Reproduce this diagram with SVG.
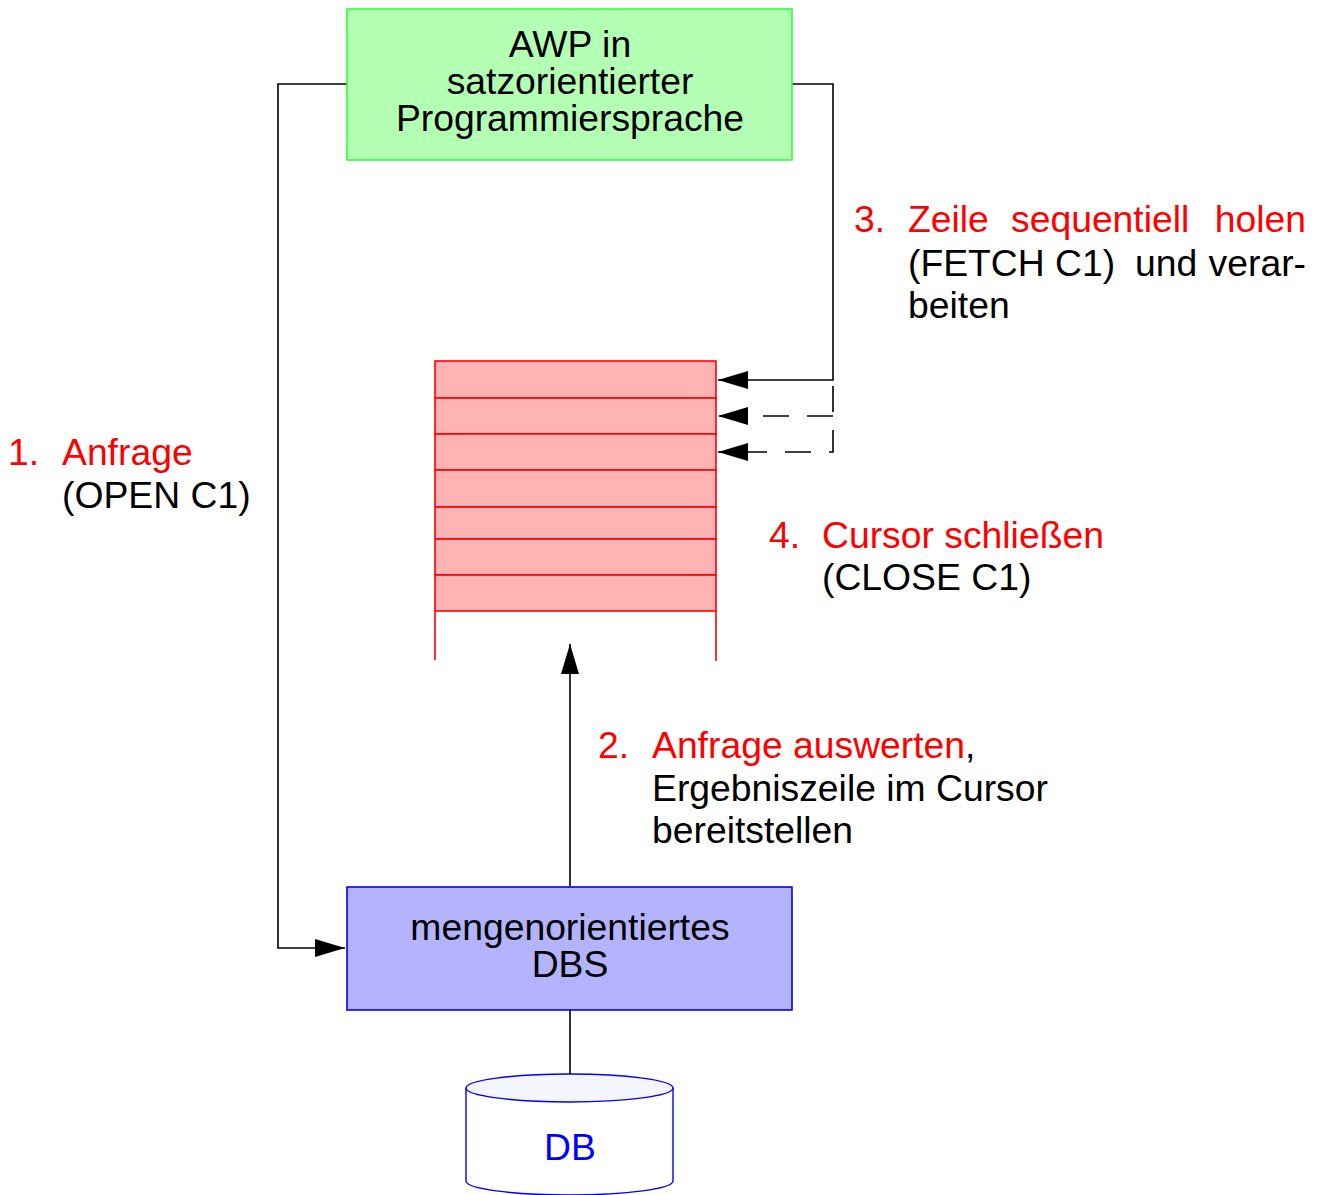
<svg xmlns="http://www.w3.org/2000/svg" width="1320" height="1195" viewBox="0 0 1320 1195">
<defs>
<marker id="ah" markerWidth="32" markerHeight="18" refX="30" refY="9" orient="auto" markerUnits="userSpaceOnUse">
<path d="M0,0 L30,9 L0,18 Z" fill="#000"/>
</marker>
<style>
text{font-family:"Liberation Sans",Arial,Helvetica,sans-serif;font-size:37.3px;fill:#000}
.c{text-anchor:middle}
.r{fill:#ff0000}
.conn{fill:none;stroke:#000;stroke-width:1.6}
.dash{stroke-dasharray:26,18}
.row{fill:#ffb3b3;stroke:#ff0000;stroke-width:1.6}
</style>
</defs>
<rect width="1320" height="1195" fill="#fff"/>

<g id="connectors">
<path class="conn" d="M347,84 H278 V948 H345" marker-end="url(#ah)"/>
<path class="conn" d="M792,84 H833 V380 H718" marker-end="url(#ah)"/>
<path class="conn dash" d="M833,386 V452 H718" marker-end="url(#ah)"/>
<path class="conn dash" d="M833,416 H718" marker-end="url(#ah)"/>
<path class="conn" d="M570,886 V644" marker-end="url(#ah)"/>
<path class="conn" d="M570,1010 V1074"/>
</g>

<g id="awp">
<rect x="347" y="9" width="445" height="151" fill="#b3ffb3" stroke="#33ff33" stroke-width="1.6"/>
<text class="c" x="570" y="57">AWP in</text>
<text class="c" x="570" y="94">satzorientierter</text>
<text class="c" x="570" y="131">Programmiersprache</text>
</g>

<g id="cursor">
<rect class="row" x="435" y="361" width="281" height="37"/>
<rect class="row" x="435" y="398" width="281" height="36"/>
<rect class="row" x="435" y="434" width="281" height="36"/>
<rect class="row" x="435" y="470" width="281" height="37"/>
<rect class="row" x="435" y="507" width="281" height="32"/>
<rect class="row" x="435" y="539" width="281" height="36"/>
<rect class="row" x="435" y="575" width="281" height="36"/>
<path d="M435,611 V660 M716,611 V661" stroke="#ff0000" stroke-width="1.6" fill="none"/>
</g>

<g id="dbs">
<rect x="347" y="887" width="445" height="123" fill="#b3b3ff" stroke="#0000ff" stroke-width="1.6"/>
<text class="c" x="570" y="940">mengenorientiertes</text>
<text class="c" x="570" y="977">DBS</text>
</g>

<g id="db">
<path d="M466,1088 V1181 A103.5,14 0 0 0 673,1181 V1088" fill="#fff" stroke="#0000ff" stroke-width="1.4"/>
<ellipse cx="569.5" cy="1088" rx="103.5" ry="14" fill="#f5f5ff" stroke="#0000ff" stroke-width="1.4"/>
<text class="c" x="570" y="1160" style="fill:#0000ff">DB</text>
</g>

<g id="label1">
<text class="r" x="8" y="465">1.</text>
<text class="r" x="62" y="465">Anfrage</text>
<text x="62" y="508">(OPEN C1)</text>
</g>

<g id="label2">
<text class="r" x="598" y="758">2.</text>
<text x="652" y="758"><tspan class="r">Anfrage auswerten</tspan>,</text>
<text x="652" y="801">Ergebniszeile im Cursor</text>
<text x="652" y="843">bereitstellen</text>
</g>

<g id="label3">
<text class="r" x="854" y="232">3.</text>
<text class="r" x="908" y="232">Zeile</text>
<text class="r" x="1011" y="232">sequentiell</text>
<text class="r" x="1306" y="232" text-anchor="end">holen</text>
<text x="908" y="276">(FETCH C1)</text>
<text x="1135" y="276">und</text>
<text x="1306" y="276" text-anchor="end">verar-</text>
<text x="908" y="318">beiten</text>
</g>

<g id="label4">
<text class="r" x="769" y="548">4.</text>
<text class="r" x="822" y="548">Cursor schließen</text>
<text x="822" y="590">(CLOSE C1)</text>
</g>
</svg>
